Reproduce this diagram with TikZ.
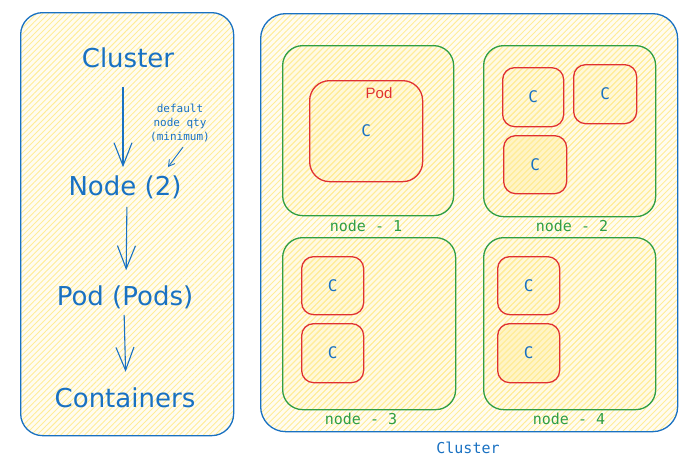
\documentclass[tikz,border=0pt]{standalone}
\usepackage{fontspec}
\setmainfont{DejaVu Sans}
\newfontfamily\monof{DejaVu Sans Mono}
\newfontfamily\handf{DejaVu Sans}
\newfontfamily\podf{Liberation Sans}
\usetikzlibrary{arrows.meta,patterns.meta}
\definecolor{exblue}{HTML}{1971C2}
\definecolor{exgreen}{HTML}{2F9E44}
\definecolor{exred}{HTML}{E03131}
\definecolor{exyel}{HTML}{FFEC99}
\tikzset{
  box/.style={draw, rectangle, preaction={fill=exyel, fill opacity=0.14},
    pattern={Lines[angle=45,distance=4.2pt,line width=0.9pt]}, pattern color=exyel,
    line width=1.3pt, anchor=north west, inner sep=0pt},
  bluebox/.style={box, draw=exblue, rounded corners=22pt},
  greenbox/.style={box, draw=exgreen, rounded corners=20pt},
  redbox/.style={box, draw=exred, rounded corners=12pt, text=exblue,
    font=\monof\fontsize{16}{18}\selectfont},
  hand/.style={text=exblue, inner sep=0pt, font=\handf\fontsize{26}{30}\selectfont},
  nlabel/.style={text=exgreen, inner sep=0pt, font=\monof\fontsize{15}{17}\selectfont},
  arr/.style={draw=exblue, line width=1.1pt, -{Straight Barb[length=23pt,width=18pt,line width=1.1pt]}},
  arrs/.style={draw=exblue, line width=0.9pt, -{Straight Barb[length=6pt,width=7pt,line width=0.9pt]}}
}
\begin{document}
\begin{tikzpicture}[x=1pt,y=-1pt]
\useasboundingbox (0,0) rectangle (696,466);
% left panel
\node[bluebox, minimum width=213pt, minimum height=423pt] (left) at (20,12) {};
\node[hand] (cl) at (128,58) {Cluster};
\node[hand] (nd) at (125,187) {Node (2)};
\node[hand] (pd) at (125,297) {Pod (Pods)};
\node[hand] (ct) at (125,398) {Containers};
\node[text=exblue, inner sep=0pt, align=center, font=\monof\fontsize{11}{14}\selectfont] (ann) at (180,123) {default\\node qty\\(minimum)};
\coordinate (annTip) at (168,167);
\draw[arr, shorten <=19pt, shorten >=8pt] ([xshift=-5pt]cl.south) -- ([xshift=-2pt]nd.north);
\draw[arr, shorten <=8pt, shorten >=15pt] ([xshift=2pt]nd.south) -- ([xshift=1pt]pd.north);
\draw[arr, shorten <=6pt, shorten >=16pt] ([xshift=-1pt]pd.south) -- ([xshift=1pt]ct.north);
\draw[arrs] ([shift={(3,5)}]ann.south) -- (annTip);
% right panel
\node[bluebox, rounded corners=25pt, minimum width=417pt, minimum height=418pt] (right) at (260,13) {};
\node[text=exblue, inner sep=0pt, font=\monof\fontsize{15}{17}\selectfont] (cllab) at (468,448) {Cluster};
% node 1
\node[greenbox, minimum width=171pt, minimum height=170pt] (n1) at (282,45) {};
\node[redbox, rounded corners=20pt, minimum width=113pt, minimum height=101pt] (pod) at (309,80) {C};
\node[text=exred, inner sep=0pt, font=\podf\fontsize{15}{17}\selectfont] (podlab) at (379,93) {Pod};
\node[nlabel] (l1) at (366,226) {node - 1};
% node 2
\node[greenbox, minimum width=172pt, minimum height=171pt] (n2) at (483,45) {};
\node[redbox, minimum width=61pt, minimum height=59pt] (c21) at (502,67) {C};
\node[redbox, minimum width=63pt, minimum height=59pt] (c22) at (573,64) {C};
\node[redbox, preaction={fill=exyel, fill opacity=0.3}, minimum width=63pt, minimum height=58pt] (c23) at (503,135) {C};
\node[nlabel] (l2) at (572,226) {node - 2};
% node 3
\node[greenbox, minimum width=173pt, minimum height=172pt] (n3) at (282,237) {};
\node[redbox, minimum width=62pt, minimum height=58pt] (c31) at (301,256) {C};
\node[redbox, minimum width=62pt, minimum height=59pt] (c32) at (301,323) {C};
\node[nlabel] (l3) at (361,419) {node - 3};
% node 4
\node[greenbox, minimum width=172pt, minimum height=172pt] (n4) at (483,237) {};
\node[redbox, minimum width=62pt, minimum height=58pt] (c41) at (497,256) {C};
\node[redbox, preaction={fill=exyel, fill opacity=0.3}, minimum width=62pt, minimum height=59pt] (c42) at (497,323) {C};
\node[nlabel] (l4) at (569,419) {node - 4};
\end{tikzpicture}
\end{document}
